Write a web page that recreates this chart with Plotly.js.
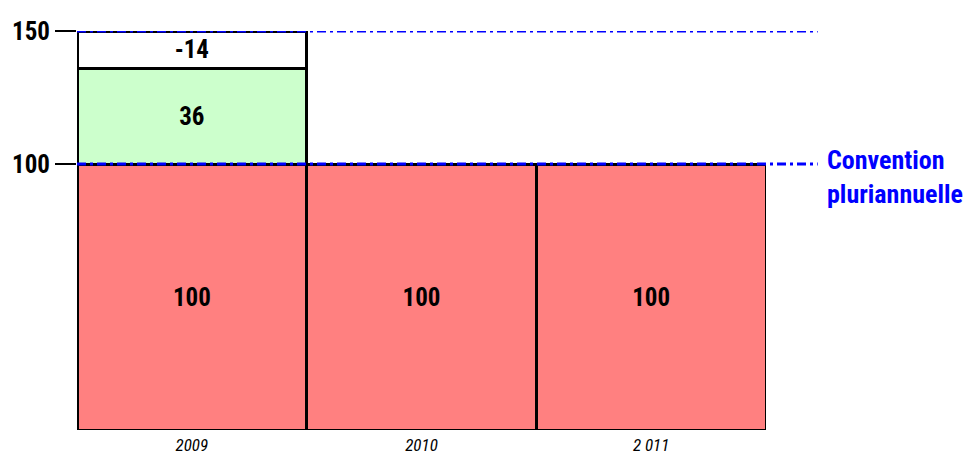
<!DOCTYPE html>
<html>
<head>
<meta charset="utf-8">
<script src="https://cdn.plot.ly/plotly-3.0.1.min.js"></script>
<style>html,body{margin:0;padding:0;background:#fff;}#chart{width:975px;height:457px;}</style>
</head>
<body>
<div id="chart"></div>
<script>
const categories = ["2009", "2010", "2 011"];
const baseValues = [100, 100, 100];
const baseLabels = ["100", "100", "100"];
const addValues = [36, null, null];
const addLabels = ["36", "", ""];
const gapValues = [14, null, null];
const gapLabels = ["-14", "", ""];
const yTickVals = [100, 150];
const yTickText = ["100", "150"];
const refLines = [100, 150];
const refLabel = "Convention<br>pluriannuelle";

const FONT = "'Liberation Sans Narrow', 'Arial Narrow', 'Roboto Condensed', 'Liberation Sans', Arial, sans-serif";
const outline = {color: "#000", width: 3};
const txtFont = {family: FONT, size: 25, color: "#000", weight: "bold"};

function barTrace(vals, labels, color) {
  return {
    type: "bar", x: categories, y: vals, text: labels,
    textposition: "inside", insidetextanchor: "middle", textangle: 0,
    textfont: txtFont, insidetextfont: txtFont,
    marker: {color: color, line: outline},
    hoverinfo: "none", cliponaxis: false
  };
}

const data = [
  barTrace(baseValues, baseLabels, "#FF8080"),
  barTrace(addValues, addLabels, "#CCFFCC"),
  barTrace(gapValues, gapLabels, "#FFFFFF")
];

const shapes = refLines.map(v => ({
  type: "line", xref: "paper", yref: "y", x0: 0, x1: 1.075, y0: v, y1: v,
  line: {color: "#0000FF", width: 3, dash: "9px,4px,3px,4px"}, layer: "above"
}));

const layout = {
  width: 975, height: 457,
  margin: {l: 77, r: 209, t: 31, b: 27},
  paper_bgcolor: "#fff", plot_bgcolor: "#fff",
  barmode: "stack", bargap: 0,
  showlegend: false,
  uniformtext: {mode: false},
  xaxis: {
    type: "category", showgrid: false, zeroline: false, showline: false,
    ticks: "", tickfont: {family: FONT, size: 17, color: "#000", style: "italic"},
    ticklabelstandoff: 3
  },
  yaxis: {
    range: [0, 150], showgrid: false, zeroline: false, showline: false,
    tickvals: yTickVals, ticktext: yTickText,
    ticks: "outside", ticklen: 21, tickwidth: 2.5, tickcolor: "#000",
    tickfont: {family: FONT, size: 25, color: "#000", weight: "bold"}
  },
  shapes: shapes,
  annotations: [{
    xref: "paper", yref: "y", x: 1.085, y: 100, xanchor: "left", yanchor: "middle",
    yshift: -13, align: "left", showarrow: false, text: refLabel,
    font: {family: FONT, size: 26, color: "#0000FF", weight: "bold"}
  }]
};

Plotly.newPlot("chart", data, layout, {displayModeBar: false, staticPlot: true});
</script>
</body>
</html>
